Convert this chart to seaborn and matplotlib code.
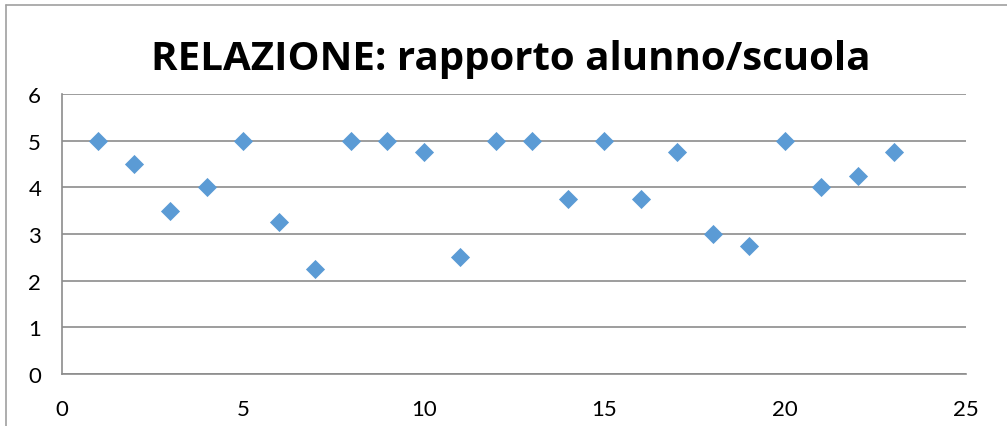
import matplotlib
matplotlib.use("Agg")
import matplotlib.pyplot as plt
import seaborn as sns
import pandas as pd
from matplotlib.lines import Line2D

x_values = list(range(1, 24))
y_values = [5, 4.5, 3.5, 4, 5, 3.25, 2.25, 5, 5, 4.75, 2.5, 5, 5, 3.75, 5,
            3.75, 4.75, 3, 2.75, 5, 4, 4.25, 4.75]
x_ticks = [0, 5, 10, 15, 20, 25]
y_ticks = [0, 1, 2, 3, 4, 5, 6]
title = "RELAZIONE: rapporto alunno/scuola"

df = pd.DataFrame({"x": x_values, "y": y_values})

sns.set_theme(style="white")
plt.rcParams['font.family'] = ['Lato', 'DejaVu Sans']

W, H = 1007, 427
fig = plt.figure(figsize=(W / 100, H / 100), dpi=100)
ax = fig.add_axes([62 / W, 1 - 375 / H, (966 - 62) / W, (375 - 95) / H])

grid_c = "#8C8C8C"
sns.scatterplot(data=df, x="x", y="y", ax=ax, marker="D", s=95,
                color="#5B9BD5", linewidth=0, zorder=3)

ax.set_xlim(0, 25)
ax.set_ylim(0, 6)
ax.set_xticks(x_ticks)
ax.set_yticks(y_ticks)
ax.set_xlabel("")
ax.set_ylabel("")
ax.yaxis.grid(True, color=grid_c, linewidth=1.2)
ax.set_axisbelow(True)
for side in ["top", "right"]:
    ax.spines[side].set_visible(False)
for side in ["left", "bottom"]:
    ax.spines[side].set_color(grid_c)
    ax.spines[side].set_linewidth(1.2)
ax.tick_params(axis="both", which="both", direction="out", length=7,
               width=1.2, color=grid_c, labelsize=16, labelcolor="black")
ax.tick_params(axis="x", pad=11)
ax.tick_params(axis="y", pad=8)

fig.text(511 / W, 1 - 60 / H, title, ha="center", va="center",
         fontsize=29, fontweight="bold", color="black",
         family=["Open Sans", "DejaVu Sans"])

border_c = "#A0A0A0"
fig.add_artist(Line2D([6 / W, 6 / W], [0, 1 - 6 / H], transform=fig.transFigure,
                      color=border_c, linewidth=1.2))
fig.add_artist(Line2D([6 / W, 1], [1 - 6 / H, 1 - 6 / H], transform=fig.transFigure,
                      color=border_c, linewidth=1.2))

fig.savefig("out.png", dpi=100)
